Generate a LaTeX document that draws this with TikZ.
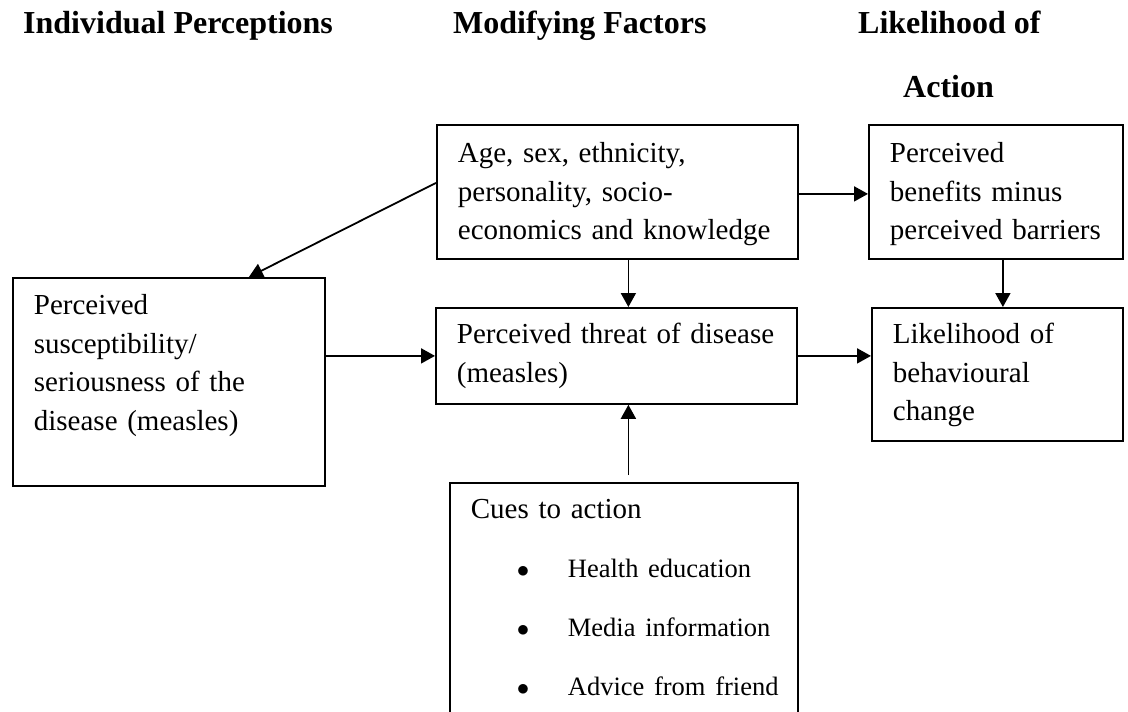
\documentclass[tikz,border=0pt]{standalone}
\usepackage{fontspec}
\setmainfont{Liberation Serif}
\usetikzlibrary{arrows.meta}
\newcommand{\cueitem}[1]{{\fontsize{26.5}{38.5}\selectfont\mbox{\makebox[97pt][l]{\hspace*{46pt}$\bullet$}#1}}}

\begin{document}
\begin{tikzpicture}[x=1pt, y=-1pt,
    box/.style={draw, line width=1.8pt, anchor=north west, align=left,
        inner xsep=21pt, inner ysep=0pt, font=\fontsize{29}{38.5}\selectfont},
    head/.style={anchor=base west, inner sep=0pt, font=\fontsize{32}{38}\selectfont\bfseries},
    arr/.style={-{Triangle[width=15pt,length=14pt]}, line width=1.8pt}]
    \useasboundingbox (0,0) rectangle (1128,712);

    \node[head] (hind) at (23,33) {Individual Perceptions};
    \node[head] (hmod) at (453,33) {Modifying Factors};
    \node[head] (hlik) at (858,33) {Likelihood of};
    \node[head] (hact) at (903,97) {Action};

    \node[box, text width=319pt, text height=38pt, text depth=96pt] (age) at (436,124)
        {Age, sex, ethnicity,\\ personality, socio-\\ economics and knowledge};
    \node[box, text width=212pt, text height=38pt, text depth=96pt] (ben) at (868,124)
        {Perceived\\ benefits minus\\ perceived barriers};
    \node[box, text width=270pt, text height=37pt, text depth=171pt] (susc) at (12,277)
        {Perceived\\ susceptibility/\\ seriousness of the\\ disease (measles)};
    \node[box, text width=319pt, text height=36pt, text depth=60pt] (threat) at (435,307)
        {Perceived threat of disease\\ (measles)};
    \node[box, text width=209pt, text height=36pt, text depth=97pt] (lik) at (871,307)
        {Likelihood of\\ behavioural\\ change};
    \node[box, text width=306pt, text height=36pt, text depth=260pt] (cues) at (449,482)
        {Cues to action\\[20.5pt]
         \cueitem{Health education}\\[20.5pt]
         \cueitem{Media information}\\[20.5pt]
         \cueitem{Advice from friend}};

    \coordinate (c1) at ([xshift=11pt]age.south);
    \coordinate (c2) at ([xshift=7pt]ben.south);
    \coordinate (cuestop) at ([yshift=7pt]cues.north);

    \path[arr]
    ([yshift=9pt]age.west) edge ([xshift=80pt]susc.north)
    ([yshift=-2pt]age.east) edge ([yshift=-2pt]age.east -| ben.west)
    (c1) edge (c1 |- threat.north)
    (c2) edge (c2 |- lik.north)
    (susc.east |- threat.west) edge (threat.west)
    (threat.east) edge (threat.east -| lik.west)
    (c1 |- cuestop) edge (c1 |- threat.south)
    ;
\end{tikzpicture}
\end{document}
